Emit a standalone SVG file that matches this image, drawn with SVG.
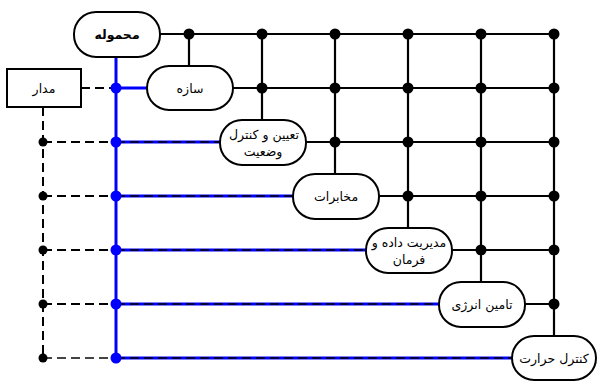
<svg xmlns="http://www.w3.org/2000/svg" width="597" height="381" viewBox="0 0 597 381">
<style>
.node rect{fill:#fff;stroke:#000;stroke-width:2}
.node text{font-family:"DejaVu Sans","Noto Sans",sans-serif;font-size:12.5px;text-anchor:middle;dominant-baseline:central;fill:#000}
.g{stroke:#000;stroke-width:2.2;fill:none}
.b{stroke:#0000ff;stroke-width:3;fill:none}
.d{stroke:#000;stroke-width:2;stroke-dasharray:9 5;fill:none}
.dt{stroke:#000;stroke-width:1.4;stroke-dasharray:9 5;fill:none}
.dot{fill:#000}
.bdot{fill:#0000ff}
</style>
<g id="connectors">
<path class="g" d="M189 34V66M262 34V120M335 34V173M408 34V228M481 34V283M554 34V337"/>
<path class="g" d="M159 34H554M233 88H554M306 142H554M379 196H554M452 250H554M525 304H554"/>
<path class="b" d="M116 57V358M116 88H147M116 142H220M116 196H293M116 250H366M116 304H439M116 358H512"/>
<path class="dt" d="M116 142H220M116 196H293M116 250H366M116 304H439M116 358H512"/>
<path class="d" d="M81 88H116M43 107V358M43 142H116M43 196H116M43 250H116M43 304H116"/>
<path class="d" style="stroke:#444" d="M43 358H116"/>
<g class="dot">
<circle cx="189" cy="34" r="5.5"/>
<circle cx="262" cy="34" r="5.5"/><circle cx="262" cy="88" r="5.5"/>
<circle cx="335" cy="34" r="5.5"/><circle cx="335" cy="88" r="5.5"/><circle cx="335" cy="142" r="5.5"/>
<circle cx="408" cy="34" r="5.5"/><circle cx="408" cy="88" r="5.5"/><circle cx="408" cy="142" r="5.5"/><circle cx="408" cy="196" r="5.5"/>
<circle cx="481" cy="34" r="5.5"/><circle cx="481" cy="88" r="5.5"/><circle cx="481" cy="142" r="5.5"/><circle cx="481" cy="196" r="5.5"/><circle cx="481" cy="250" r="5.5"/>
<circle cx="554" cy="34" r="5.5"/><circle cx="554" cy="88" r="5.5"/><circle cx="554" cy="142" r="5.5"/><circle cx="554" cy="196" r="5.5"/><circle cx="554" cy="250" r="5.5"/><circle cx="554" cy="304" r="5.5"/>
<circle cx="43" cy="142" r="4.5"/><circle cx="43" cy="196" r="4.5"/><circle cx="43" cy="250" r="4.5"/><circle cx="43" cy="304" r="4.5"/><circle cx="43" cy="358" r="4.5"/>
</g>
<g class="bdot">
<circle cx="116" cy="88" r="5.5"/><circle cx="116" cy="142" r="5.5"/><circle cx="116" cy="196" r="5.5"/><circle cx="116" cy="250" r="5.5"/><circle cx="116" cy="304" r="5.5"/><circle cx="116" cy="358" r="5.5"/>
</g>
</g>
<g id="n-orbit" class="node"><rect x="7" y="69" width="74" height="38" rx="0"/><text x="44" y="88">مدار</text></g>
<g id="n-payload" class="node"><rect x="74" y="12" width="86" height="45" rx="22"/><text x="117" y="34" font-weight="bold">محموله</text></g>
<g id="n-structure" class="node"><rect x="147" y="66" width="86" height="44" rx="22"/><text x="190" y="88">سازه</text></g>
<g id="n-adcs" class="node"><rect x="220" y="120" width="86" height="45" rx="22"/><text x="264" y="134">تعیین و کنترل</text><text x="263" y="151">وضعیت</text></g>
<g id="n-comm" class="node"><rect x="293" y="174" width="86" height="45" rx="22"/><text x="336" y="196">مخابرات</text></g>
<g id="n-cdh" class="node"><rect x="366" y="228" width="86" height="45" rx="22"/><text x="409" y="242">مدیریت داده و</text><text x="409" y="259">فرمان</text></g>
<g id="n-power" class="node"><rect x="439" y="282" width="86" height="45" rx="22"/><text x="482" y="304">تامین انرژی</text></g>
<g id="n-thermal" class="node"><rect x="512" y="336" width="84" height="44" rx="22"/><text x="554" y="358">کنترل حرارت</text></g>
</svg>
